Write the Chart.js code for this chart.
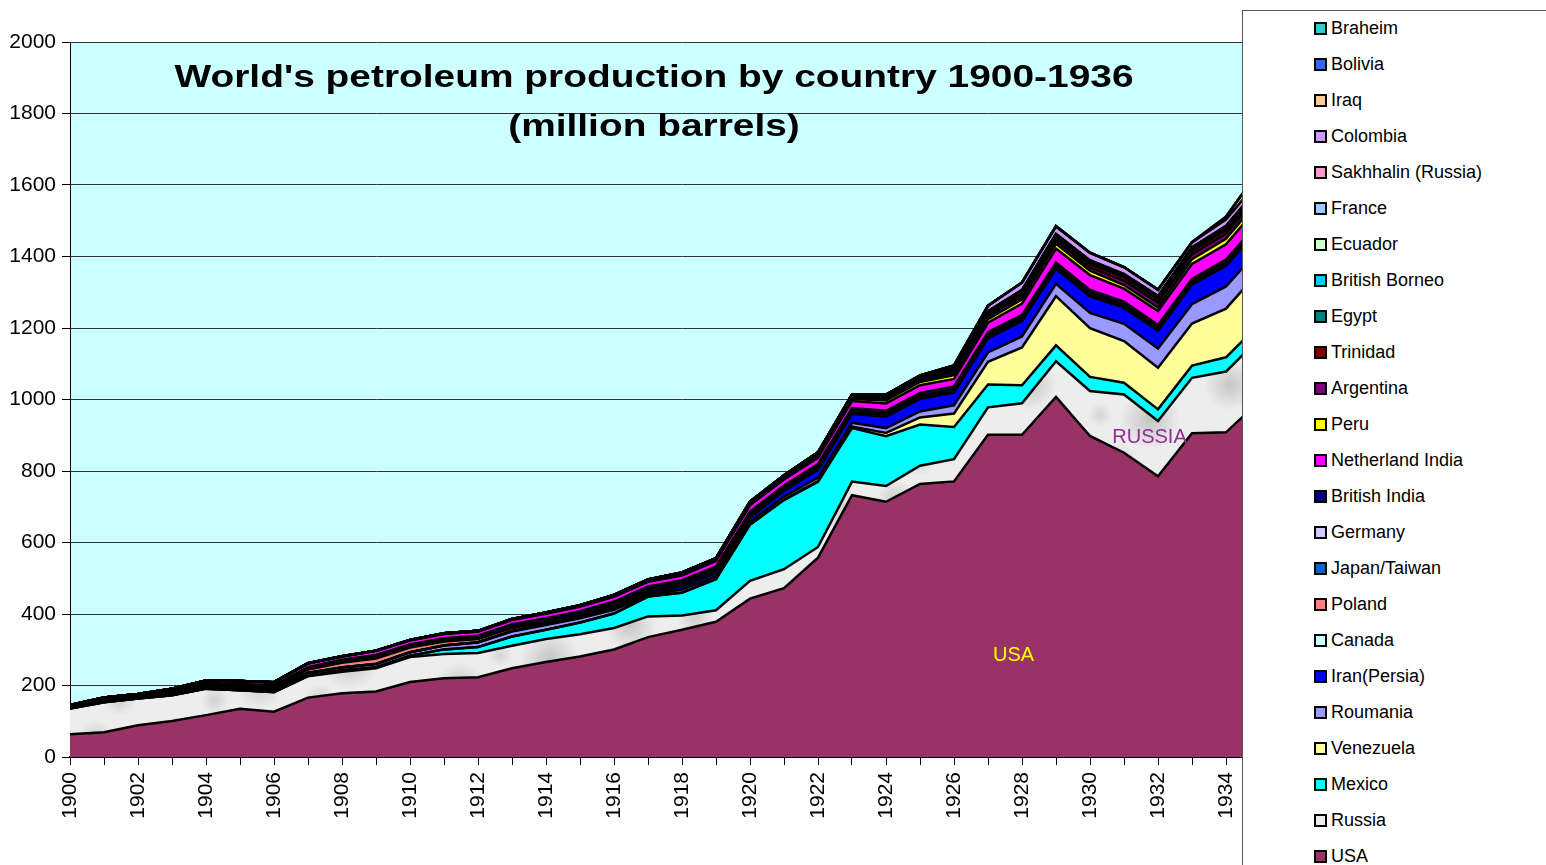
<!DOCTYPE html>
<html>
<head>
<meta charset="utf-8">
<title>World's petroleum production by country 1900-1936</title>
<script src="https://cdn.jsdelivr.net/npm/chart.js@4.4.1/dist/chart.umd.min.js"></script>
<style>
  body { margin: 0; background: #fff; overflow: hidden; }
  #wrap { position: relative; width: 1546px; height: 865px; }
  #legend {
    position: absolute; left: 1242px; top: 10px; width: 330px; height: 880px;
    border: 1px solid #555; background: #fff;
    font: 18px "Liberation Sans", Arial, sans-serif; color: #000;
  }
  #legend .item { position: absolute; left: 71px; height: 22px; line-height: 22px; display: flex; align-items: center; white-space: nowrap; }
  #legend .box { width: 9px; height: 9px; border: 2px solid #000; margin-right: 4px; }
</style>
</head>
<body>
<div id="wrap">
  <canvas id="chart" width="1546" height="865"></canvas>
  <div id="legend"></div>
</div>
<script>
// million barrels per year, 1900-1936
const years = [];
for (let y = 1900; y <= 1936; y++) years.push(y);

const usa = [63.6, 69.4, 88.8, 100.5, 117.1, 134.7, 126.5, 166.1, 178.5, 183.2, 209.6, 220.4, 222.9, 248.4, 265.8, 281.1, 300.8, 335.3, 355.9, 378.4, 442.9, 472.2, 557.5, 732.4, 713.9, 763.7, 770.9, 901.1, 901.5, 1007.3, 898.0, 851.1, 785.2, 905.7, 908.1, 996.6, 1099.7];
const russia = [72, 84, 75, 72, 74, 52, 55, 60, 60, 65, 70, 68, 68, 63, 64, 62, 60, 58, 40, 32, 50, 53, 30, 38, 44, 51, 62, 77, 88, 99.5, 125.6, 162.8, 154.4, 155, 170, 176, 184];
const mexico = [0, 0.01, 0.04, 0.08, 0.13, 0.25, 0.5, 1.0, 3.9, 2.7, 3.6, 12.6, 16.6, 25.7, 26.2, 32.9, 40.5, 55.3, 63.8, 87.1, 157.1, 193.4, 182.3, 149.6, 139.7, 115.5, 90.4, 64.1, 50.2, 44.7, 39.5, 33.0, 32.8, 34.0, 40.0, 40.2, 41.0];
const venezuela = [0, 0, 0, 0, 0, 0, 0, 0, 0, 0, 0, 0, 0, 0, 0, 0, 0, 0.12, 0.33, 0.43, 0.46, 1.43, 2.2, 4.2, 9.04, 19.69, 37.23, 63.13, 105.75, 137.47, 136.67, 116.61, 116.54, 117.72, 136.1, 148.5, 154.8];
const roumania = [1.63, 1.68, 2.06, 2.76, 3.60, 4.42, 6.38, 8.12, 8.25, 9.33, 9.72, 11.11, 12.98, 13.55, 12.83, 12.03, 10.30, 3.72, 8.73, 6.62, 7.44, 8.35, 9.84, 10.85, 13.37, 16.65, 23.29, 26.28, 30.77, 34.76, 42.61, 48.28, 53.94, 54.1, 62.0, 61.3, 63.5];
const iran = [0, 0, 0, 0, 0, 0, 0, 0, 0, 0, 0, 0, 0.43, 1.86, 2.92, 3.62, 4.48, 6.95, 8.62, 10.14, 12.23, 16.67, 22.25, 25.23, 32.37, 35.04, 35.84, 39.69, 43.46, 42.15, 45.83, 44.38, 49.47, 54.39, 57.85, 57.3, 62.0];
const canada = [0.91, 0.76, 0.53, 0.49, 0.55, 0.63, 0.57, 0.79, 0.53, 0.42, 0.32, 0.29, 0.24, 0.23, 0.21, 0.22, 0.20, 0.21, 0.30, 0.24, 0.20, 0.19, 0.18, 0.17, 0.16, 0.33, 0.36, 0.48, 0.62, 1.12, 1.52, 1.54, 1.04, 1.15, 1.41, 1.45, 1.5];
const poland = [2.35, 3.25, 4.14, 5.23, 5.95, 5.77, 5.47, 8.46, 12.61, 14.93, 12.67, 10.52, 8.54, 7.82, 5.03, 4.16, 6.46, 5.97, 5.59, 6.10, 5.61, 3.67, 5.23, 5.33, 5.66, 5.96, 5.79, 5.36, 5.63, 4.92, 4.90, 4.67, 4.0, 4.0, 3.9, 3.8, 3.8];
const japan = [0.87, 1.11, 0.96, 1.21, 1.42, 1.47, 1.71, 2.00, 2.07, 1.89, 1.93, 1.66, 1.67, 1.94, 2.74, 3.12, 2.98, 2.90, 2.45, 2.12, 2.14, 2.61, 2.17, 1.79, 1.95, 1.83, 1.76, 1.67, 1.93, 1.90, 1.92, 1.88, 1.57, 1.55, 1.8, 2.0, 2.5];
const germany = [0.36, 0.33, 0.36, 0.45, 0.64, 0.58, 0.58, 0.76, 1.01, 1.02, 1.03, 1.02, 1.03, 0.88, 0.73, 0.69, 0.69, 0.69, 0.71, 0.88, 0.23, 0.26, 0.33, 0.36, 0.42, 0.56, 0.69, 0.65, 0.66, 0.70, 1.23, 1.61, 1.66, 1.74, 2.2, 3.1, 3.1];
const britishIndia = [1.08, 1.43, 1.62, 2.51, 3.39, 4.14, 4.01, 4.34, 5.05, 6.68, 6.14, 6.45, 7.12, 7.93, 7.41, 8.20, 8.49, 8.08, 8.00, 8.45, 8.39, 7.40, 7.59, 7.91, 8.00, 8.26, 8.21, 8.76, 8.24, 8.34, 8.61, 8.24, 7.93, 8.17, 8.1, 8.1, 8.5];
const netherlandIndia = [2.25, 4.01, 2.43, 5.77, 6.51, 7.85, 8.18, 9.98, 8.82, 11.04, 11.03, 12.17, 10.85, 11.97, 12.71, 12.39, 13.17, 12.93, 13.28, 15.43, 17.53, 17.00, 17.06, 19.87, 20.43, 21.42, 21.22, 26.39, 31.73, 39.23, 41.73, 35.92, 38.76, 41.6, 42.4, 47.2, 49.4];
const peru = [0.27, 0.27, 0.29, 0.28, 0.50, 0.45, 0.54, 0.76, 1.01, 1.32, 1.33, 1.37, 1.75, 2.13, 1.92, 2.49, 2.55, 2.53, 2.54, 2.56, 2.82, 3.70, 5.32, 5.70, 7.98, 9.23, 10.76, 10.03, 12.04, 13.42, 12.45, 10.09, 9.90, 13.26, 16.0, 17.1, 17.6];
const argentina = [0, 0, 0, 0, 0, 0, 0, 0.01, 0.01, 0.02, 0.02, 0.01, 0.05, 0.13, 0.27, 0.52, 0.87, 1.14, 1.32, 1.18, 1.64, 2.14, 2.87, 3.44, 5.68, 5.83, 7.91, 8.62, 9.07, 9.39, 9.00, 11.70, 13.14, 13.69, 14.0, 14.3, 15.5];
const trinidad = [0, 0, 0, 0, 0, 0, 0, 0, 0, 0.01, 0.14, 0.29, 0.44, 0.50, 0.64, 0.75, 1.00, 1.60, 2.08, 1.84, 2.08, 2.35, 2.45, 3.05, 4.04, 4.42, 4.72, 5.38, 7.68, 8.72, 9.42, 9.56, 10.14, 9.56, 10.9, 11.7, 13.2];
const egypt = [0, 0, 0, 0, 0, 0, 0, 0, 0, 0, 0, 0.02, 0.21, 0.09, 0.78, 0.22, 0.41, 0.95, 1.94, 1.52, 1.04, 1.26, 1.19, 1.07, 1.05, 1.22, 1.19, 1.27, 1.83, 1.87, 1.99, 2.04, 1.88, 1.67, 1.8, 1.3, 1.3];
const britishBorneo = [0, 0, 0, 0, 0, 0, 0, 0, 0, 0, 0, 0, 0, 0, 0.05, 0.2, 0.4, 0.5, 0.55, 0.57, 1.9, 2.1, 3.0, 4.0, 4.9, 4.8, 5.4, 5.5, 5.2, 5.4, 5.1, 4.5, 4.1, 4.8, 5.5, 5.3, 5.6];
const ecuador = [0, 0, 0, 0, 0, 0, 0, 0, 0, 0, 0, 0, 0, 0, 0, 0, 0, 0.01, 0.01, 0.02, 0.05, 0.05, 0.06, 0.07, 0.12, 0.25, 0.6, 0.8, 1.1, 1.3, 1.55, 1.7, 1.6, 1.7, 1.8, 1.7, 1.8];
const france = [0, 0, 0, 0, 0, 0, 0, 0, 0, 0, 0, 0, 0, 0, 0, 0, 0, 0, 0, 0.35, 0.38, 0.4, 0.5, 0.5, 0.5, 0.5, 0.5, 0.5, 0.5, 0.5, 0.53, 0.52, 0.56, 0.55, 0.55, 0.5, 0.5];
const sakhalin = [0, 0, 0, 0, 0, 0, 0, 0, 0, 0, 0, 0, 0, 0, 0, 0, 0, 0, 0, 0, 0, 0, 0, 0, 0, 0, 0.1, 0.3, 0.8, 1.0, 1.4, 1.4, 1.3, 1.4, 1.4, 1.3, 1.3];
const colombia = [0, 0, 0, 0, 0, 0, 0, 0, 0, 0, 0, 0, 0, 0, 0, 0, 0, 0, 0, 0, 0, 0.07, 0.32, 0.42, 0.45, 1.01, 6.44, 15.0, 19.9, 20.4, 20.3, 18.2, 16.4, 13.2, 17.3, 17.6, 18.8];
const iraq = [0, 0, 0, 0, 0, 0, 0, 0, 0, 0, 0, 0, 0, 0, 0, 0, 0, 0, 0, 0, 0, 0, 0, 0, 0, 0, 0, 0.32, 0.71, 0.80, 0.91, 0.87, 0.84, 0.92, 7.7, 27.4, 30.0];
const bolivia = [0, 0, 0, 0, 0, 0, 0, 0, 0, 0, 0, 0, 0, 0, 0, 0, 0, 0, 0, 0, 0, 0, 0, 0, 0, 0, 0, 0, 0, 0, 0.06, 0.04, 0.08, 0.1, 0.15, 0.15, 0.2];
const braheim = [0, 0, 0, 0, 0, 0, 0, 0, 0, 0, 0, 0, 0, 0, 0, 0, 0, 0, 0, 0, 0, 0, 0, 0, 0, 0, 0, 0, 0, 0, 0, 0, 0, 0.03, 0.29, 1.27, 4.6];

const titleLines = ["World's petroleum production by country 1900-1936", '(million barrels)'];

// soft grey marble look for the Russia band
function marble() {
    const c = document.createElement('canvas');
    c.width = 200; c.height = 120;
    const g = c.getContext('2d');
    g.fillStyle = '#EDEDED';
    g.fillRect(0, 0, 200, 120);
    const blobs = [
        [30, 25, 26, 0.4], [95, 18, 18, 0.32], [150, 60, 30, 0.42], [60, 85, 24, 0.36],
        [120, 100, 16, 0.3], [180, 20, 14, 0.28], [15, 100, 14, 0.3], [100, 55, 12, 0.25]
    ];
    blobs.forEach(([x, y, r, a]) => {
        const grad = g.createRadialGradient(x, y, 0, x, y, r);
        grad.addColorStop(0, 'rgba(140,140,140,' + a + ')');
        grad.addColorStop(1, 'rgba(140,140,140,0)');
        g.fillStyle = grad;
        g.fillRect(x - r, y - r, 2 * r, 2 * r);
    });
    return g.createPattern(c, 'repeat');
}

const series = [
    { name: 'USA', values: usa, color: '#993366' },
    { name: 'Russia', values: russia, color: marble(), swatch: '#ECECEC' },
    { name: 'Mexico', values: mexico, color: '#00FFFF' },
    { name: 'Venezuela', values: venezuela, color: '#FFFF99' },
    { name: 'Roumania', values: roumania, color: '#9999FF' },
    { name: 'Iran(Persia)', values: iran, color: '#0000FF' },
    { name: 'Canada', values: canada, color: '#CCFFFF' },
    { name: 'Poland', values: poland, color: '#FF8080' },
    { name: 'Japan/Taiwan', values: japan, color: '#0066CC' },
    { name: 'Germany', values: germany, color: '#CCCCFF' },
    { name: 'British India', values: britishIndia, color: '#000080' },
    { name: 'Netherland India', values: netherlandIndia, color: '#FF00FF' },
    { name: 'Peru', values: peru, color: '#FFFF00' },
    { name: 'Argentina', values: argentina, color: '#800080' },
    { name: 'Trinidad', values: trinidad, color: '#800000' },
    { name: 'Egypt', values: egypt, color: '#008080' },
    { name: 'British Borneo', values: britishBorneo, color: '#00CCFF' },
    { name: 'Ecuador', values: ecuador, color: '#CCFFCC' },
    { name: 'France', values: france, color: '#99CCFF' },
    { name: 'Sakhhalin (Russia)', values: sakhalin, color: '#FF99CC' },
    { name: 'Colombia', values: colombia, color: '#CC99FF' },
    { name: 'Iraq', values: iraq, color: '#FFCC99' },
    { name: 'Bolivia', values: bolivia, color: '#3366FF' },
    { name: 'Braheim', values: braheim, color: '#33CCCC' }
];

Chart.defaults.font.family = '"Liberation Sans", Arial, sans-serif';
Chart.defaults.color = '#000';

const plotBackground = {
    id: 'plotBackground',
    beforeDraw(chart) {
        const { ctx, chartArea: a } = chart;
        ctx.save();
        ctx.fillStyle = '#CCFFFF';
        ctx.fillRect(a.left, a.top, a.right - a.left, a.bottom - a.top);
        ctx.restore();
    }
};

const chartText = {
    id: 'chartText',
    afterDraw(chart) {
        const { ctx, chartArea: a, scales } = chart;
        ctx.save();
        // title sits inside the plot
        ctx.font = 'bold 32px "Liberation Sans", Arial, sans-serif';
        ctx.fillStyle = '#000';
        ctx.textAlign = 'center';
        const stretch = 959 / ctx.measureText(titleLines[0]).width;
        ctx.translate(a.left + 584, 0);
        ctx.scale(stretch, 1);
        ctx.fillText(titleLines[0], 0, 87);
        ctx.fillText(titleLines[1], 0, 136);
        ctx.restore();

        ctx.save();
        ctx.font = '20px "Liberation Sans", Arial, sans-serif';
        ctx.textAlign = 'center';
        ctx.textBaseline = 'middle';
        ctx.fillStyle = '#FFFF00';
        ctx.fillText('USA', scales.x.getPixelForValue(1927.75), scales.y.getPixelForValue(285));
        ctx.fillStyle = '#912D91';
        ctx.fillText('RUSSIA', scales.x.getPixelForValue(1931.75), scales.y.getPixelForValue(895));
        ctx.restore();
    }
};

const ctx = document.getElementById('chart').getContext('2d');
const chart = new Chart(ctx, {
    type: 'line',
    data: {
        datasets: series.map((s, i) => ({
            label: s.name,
            data: years.map((y, j) => ({ x: y, y: s.values[j] })),
            backgroundColor: s.color,
            borderColor: '#000',
            borderWidth: 2.5,
            fill: i === 0 ? 'origin' : '-1',
            pointRadius: 0,
            tension: 0
        }))
    },
    options: {
        responsive: false,
        animation: false,
        layout: { padding: { top: 42, right: 252, bottom: 0, left: 0 } },
        plugins: {
            legend: { display: false },
            tooltip: { enabled: false },
            filler: { drawTime: 'beforeDatasetsDraw' }
        },
        scales: {
            x: {
                type: 'linear',
                min: 1900,
                max: 1936,
                afterFit: s => { s.height = 108; },
                grid: { drawOnChartArea: false, tickLength: 8, tickColor: '#000' },
                border: { color: '#000', width: 2 },
                ticks: {
                    stepSize: 1,
                    autoSkip: false,
                    minRotation: 90,
                    maxRotation: 90,
                    padding: 7,
                    font: { size: 21 },
                    callback: v => (v % 2 === 0 ? String(v) : '')
                }
            },
            y: {
                stacked: true,
                min: 0,
                max: 2000,
                afterFit: s => { s.width = 70; },
                grid: { color: '#333', tickLength: 8, tickColor: '#000' },
                border: { color: '#000', width: 1 },
                ticks: { stepSize: 200, padding: 6, font: { size: 21 }, callback: v => String(v) }
            }
        }
    },
    plugins: [plotBackground, chartText]
});

// legend box overlapping the right end of the plot, top entry = last series
const legend = document.getElementById('legend');
series.slice().reverse().forEach((s, i) => {
    const item = document.createElement('div');
    item.className = 'item';
    item.style.top = (6 + 36 * i) + 'px';
    const box = document.createElement('span');
    box.className = 'box';
    box.style.background = s.swatch || s.color;
    item.appendChild(box);
    item.appendChild(document.createTextNode(s.name));
    legend.appendChild(item);
});
</script>
</body>
</html>
